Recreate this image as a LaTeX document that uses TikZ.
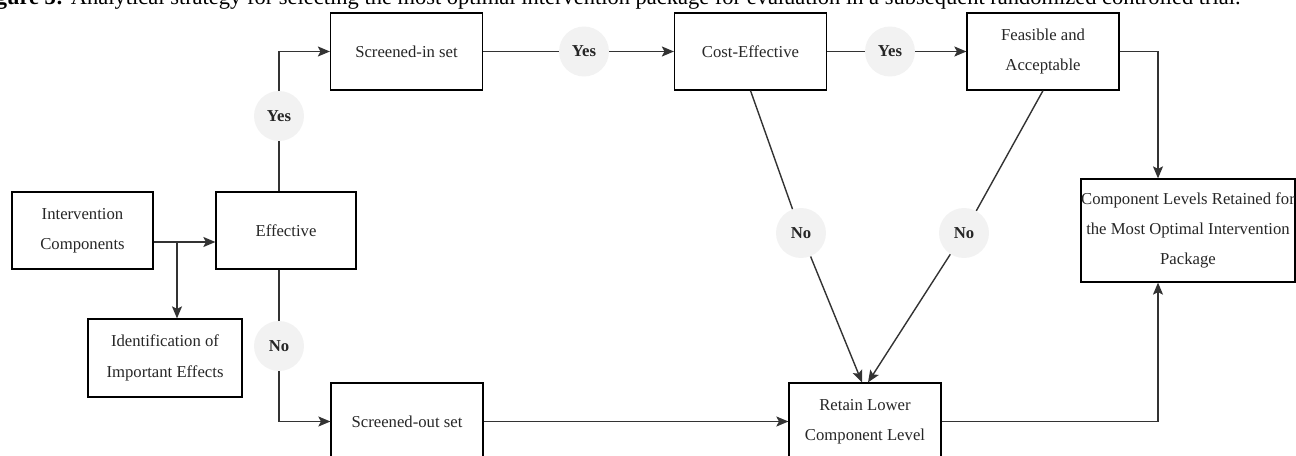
\documentclass[tikz,border=0pt]{standalone}
\usepackage{fontspec}
\setmainfont{Liberation Serif}
\usetikzlibrary{arrows.meta}

\definecolor{txtgray}{HTML}{262626}
\definecolor{bubble}{HTML}{F2F2F2}
\definecolor{edgegray}{HTML}{333333}

\begin{document}
\begin{tikzpicture}[
    x=0.02cm, y=-0.02cm,
    font=\fontsize{9.5}{17.3}\selectfont,
    box/.style={rectangle, draw=black, line width=0.7pt, minimum width=3.04cm, minimum height=1.54cm, align=center, inner sep=0pt, text=txtgray},
    tag/.style={circle, fill=bubble, minimum size=1cm, inner sep=0pt, font=\fontsize{9.5}{11}\selectfont\bfseries, text=txtgray},
    link/.style={draw=edgegray, line width=0.8pt},
    arrow/.style={link, -{Stealth[length=2.4mm, width=2mm, inset=0.5mm]}}
]
    \useasboundingbox (0,0) rectangle (1296,456);
    \clip (0,0) rectangle (1296,456);
    % Caption
    \node[anchor=base east, inner sep=0pt, font=\fontsize{12.8}{15}\selectfont] (cap) at (1241,4.5)
        {\textbf{Figure 3:} Analytical strategy for selecting the most optimal intervention package for evaluation in a subsequent randomized controlled trial.};
    % Screening
    \node[box, minimum width=2.82cm] (ic) at (82.5,230.5) {Intervention\\Components};
    \node[box, minimum width=2.8cm] (ef) at (286,230.5) {Effective};
    \node[box, minimum width=3.08cm, minimum height=1.56cm] (id) at (165,358) {Identification of\\Important Effects};
    \node[box] (si) at (406.5,51.5) {Screened-in set};
    \node[box] (so) at (407,421.5) {Screened-out set};
    % Evaluation
    \node[box] (ce) at (750.5,51.5) {Cost-Effective};
    \node[box] (fa) at (1043,51.5) {Feasible and\\Acceptable};
    \node[box] (rl) at (865,421.5) {Retain Lower\\Component Level};
    \node[box, minimum width=4.28cm, minimum height=2.06cm] (cl) at (1188,230.5) {Component Levels Retained for\\the Most Optimal Intervention\\Package};
    % Decisions
    \node[tag] (yes1) at (279,116) {Yes};
    \node[tag] (yes2) at (584,51.5) {Yes};
    \node[tag] (yes3) at (890,51.5) {Yes};
    \node[tag] (no1) at (279,346) {No};
    \node[tag] (no2) at (801,233) {No};
    \node[tag] (no3) at (964,233) {No};
    % Arrows
    \coordinate (split) at (177,242);
    \draw[arrow] (ic.east |- split) -- (ef.west |- split);
    \draw[arrow] (split) -- (split |- id.north);
    \draw[link] (yes1 |- ef.north) -- (yes1);
    \draw[arrow] (yes1) |- (si.west);
    \draw[link] (no1 |- ef.south) -- (no1);
    \draw[arrow] (no1) |- (so.west);
    \draw[link] (si) -- (yes2);
    \draw[arrow] (yes2) -- (ce);
    \draw[link] (ce) -- (yes3);
    \draw[arrow] (yes3) -- (fa);
    \draw[link] (ce.south) -- (no2);
    \draw[arrow] (no2) -- ([xshift=-0.06cm]rl.north);
    \draw[link] (fa.south) -- (no3);
    \draw[arrow] (no3) -- ([xshift=0.06cm]rl.north);
    \draw[arrow] (so) -- (rl);
    \draw[arrow] (fa.east) -| ([xshift=-0.6cm]cl.north);
    \draw[arrow] (rl.east) -| ([xshift=-0.6cm]cl.south);
\end{tikzpicture}
\end{document}
